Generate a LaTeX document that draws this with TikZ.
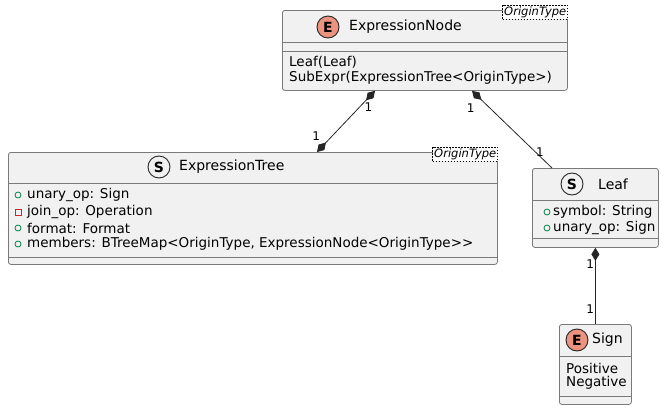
\documentclass[tikz,border=0pt]{standalone}
\usepackage{fontspec}
\setmainfont{DejaVu Sans}
\usetikzlibrary{arrows.meta,calc}
\definecolor{boxfill}{HTML}{F1F1F1}
\definecolor{boxline}{HTML}{7A7A7A}
\definecolor{enumspot}{HTML}{EB937F}
\definecolor{pubcol}{HTML}{038048}
\definecolor{privcol}{HTML}{C82930}

\tikzset{
  classbox/.style={draw=boxline, fill=boxfill, line width=0.8pt, rounded corners=2.5pt,
    anchor=north west, inner sep=0pt},
  sepline/.style={draw=boxline, line width=0.8pt},
  spot/.style={circle, draw=black!85, line width=0.9pt, minimum size=22pt, inner sep=0pt,
    font=\fontsize{14}{14}\selectfont\bfseries},
  title/.style={anchor=west, inner sep=0pt, font=\fontsize{14}{16}\selectfont},
  member/.style={anchor=west, inner sep=0pt, font=\fontsize{13.5}{15}\selectfont},
  template/.style={draw=black, fill=white, dash pattern=on 1.5pt off 1.5pt, line width=0.6pt,
    anchor=north east, inner xsep=1.5pt, inner ysep=1.5pt, font=\fontsize{11.5}{13}\selectfont\itshape},
  pub/.style={circle, draw=pubcol, line width=0.8pt, minimum size=6pt, inner sep=0pt},
  priv/.style={rectangle, draw=privcol, line width=0.8pt, minimum size=6pt, inner sep=0pt},
  comp/.style={draw=black!85, line width=0.8pt},
  diam/.tip={Diamond[length=13pt, width=8pt]},
  lbl/.style={inner sep=0pt, font=\fontsize{12}{12}\selectfont}
}

\begin{document}
\begin{tikzpicture}[x=1pt, y=-1pt]
\useasboundingbox (0,0) rectangle (665,410);

% ExpressionNode
\node[classbox, minimum width=285pt, minimum height=80pt] (exprnode) at (282,10) {};
\draw[sepline] ($(exprnode.north west)+(0,32)$) -- ($(exprnode.north east)+(0,32)$);
\draw[sepline] ($(exprnode.north west)+(0,41)$) -- ($(exprnode.north east)+(0,41)$);
\node[spot, fill=enumspot] (exprnodespot) at (328,27) {E};
\node[title] (exprnodetitle) at (349,27) {ExpressionNode};
\node[member] (exprnodeleaf) at (289,62) {Leaf(Leaf)};
\node[member] (exprnodesub) at (289,78) {SubExpr(ExpressionTree<OriginType>)};
\node[template] (exprnodetpl) at (568,5) {OriginType};

% ExpressionTree
\node[classbox, minimum width=489pt, minimum height=112pt] (exprtree) at (8,152) {};
\draw[sepline] ($(exprtree.north west)+(0,31)$) -- ($(exprtree.north east)+(0,31)$);
\draw[sepline] ($(exprtree.north west)+(0,105)$) -- ($(exprtree.north east)+(0,105)$);
\node[spot, fill=boxfill] (exprtreespot) at (159,167) {S};
\node[title] (exprtreetitle) at (179,167) {ExpressionTree};
\node[pub] (etvis1) at (18,195) {};
\node[member] (etunary) at (27,195) {unary\_op: Sign};
\node[priv] (etvis2) at (18,212) {};
\node[member] (etjoin) at (27,212) {join\_op: Operation};
\node[pub] (etvis3) at (18,228) {};
\node[member] (etformat) at (27,228) {format: Format};
\node[pub] (etvis4) at (18,244) {};
\node[member] (etmembers) at (27,244) {members: BTreeMap<OriginType, ExpressionNode<OriginType>{}>};
\node[template] (exprtreetpl) at (498,147) {OriginType};

% Leaf
\node[classbox, minimum width=126pt, minimum height=79pt] (leaf) at (532,168) {};
\draw[sepline] ($(leaf.north west)+(0,32)$) -- ($(leaf.north east)+(0,32)$);
\draw[sepline] ($(leaf.north west)+(0,70)$) -- ($(leaf.north east)+(0,70)$);
\node[spot, fill=boxfill] (leafspot) at (572,184) {S};
\node[title] (leaftitle) at (598,184) {Leaf};
\node[pub] (leafvis1) at (547,212) {};
\node[member] (leafsymbol) at (553,212) {symbol: String};
\node[pub] (leafvis2) at (547,228) {};
\node[member] (leafunary) at (553,228) {unary\_op: Sign};

% Sign
\node[classbox, minimum width=72pt, minimum height=80pt] (sign) at (559,324) {};
\draw[sepline] ($(sign.north west)+(0,32)$) -- ($(sign.north east)+(0,32)$);
\draw[sepline] ($(sign.north west)+(0,72)$) -- ($(sign.north east)+(0,72)$);
\node[spot, fill=enumspot] (signspot) at (577,340) {E};
\node[title] (signtitle) at (592,340) {Sign};
\node[member] (signpos) at (566,368) {Positive};
\node[member] (signneg) at (566,383) {Negative};

% compositions
\draw[comp, {diam}-{diam}] ($(exprnode.south west)+(93,0)$) -- ($(exprtree.north west)+(309,0)$)
  node[lbl, pos=0.27, xshift=9pt] {1}
  node[lbl, pos=0.74, xshift=-16pt] {1};
\draw[comp, {diam}-] ($(exprnode.south west)+(190,0)$) -- ($(leaf.north west)+(20,0)$)
  node[lbl, pos=0.22, xshift=-19pt] {1}
  node[lbl, pos=0.8, xshift=4pt] {1};
\draw[comp, {diam}-] (leaf.south) -- (sign.north)
  node[lbl, pos=0.21, anchor=east, xshift=-1pt] {1}
  node[lbl, pos=0.8, anchor=east, xshift=-1pt] {1};
\end{tikzpicture}
\end{document}
